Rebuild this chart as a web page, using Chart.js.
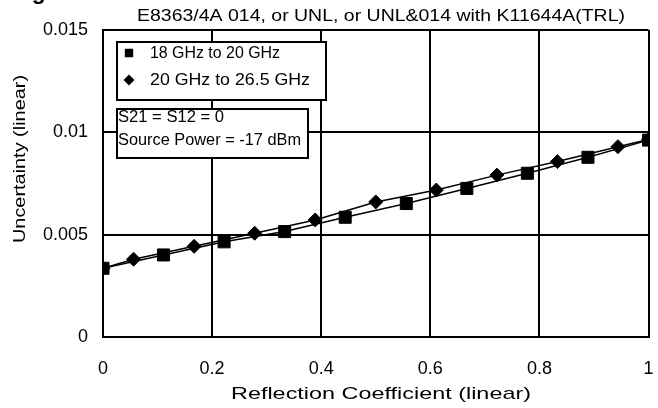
<!DOCTYPE html>
<html>
<head>
<meta charset="utf-8">
<script src="https://cdn.jsdelivr.net/npm/chart.js@4.4.1/dist/chart.umd.min.js"></script>
<style>
  html, body { margin: 0; padding: 0; background: #fff; overflow: hidden; }
  #wrap { width: 658px; height: 408px; position: relative; }
  #chart { display: block; }
</style>
</head>
<body>
<div id="wrap"><canvas id="chart"></canvas></div>
<script>
// ── Data ──────────────────────────────────────────────────────
const chartTitle  = 'E8363/4A 014, or UNL, or UNL&014 with K11644A(TRL)';
const cornerLabel = 'Magnitude';
const xTitle      = 'Reflection Coefficient (linear)';
const yTitle      = 'Uncertainty (linear)';
const noteLines   = ['S21 = S12 = 0', 'Source Power = -17 dBm'];

const seriesNames = ['18 GHz to 20 GHz', '20 GHz to 26.5 GHz'];

// 18 GHz to 20 GHz (squares)
const xLow  = [0, 0.111, 0.222, 0.333, 0.444, 0.556, 0.667, 0.778, 0.889, 1];
const yLow  = [0.00336, 0.00401, 0.00465, 0.00515, 0.00585, 0.00652, 0.00726, 0.00800, 0.00878, 0.00962];
// 20 GHz to 26.5 GHz (diamonds)
const xHigh = [0, 0.056, 0.167, 0.278, 0.389, 0.5, 0.611, 0.722, 0.833, 0.944, 1];
const yHigh = [0.00336, 0.00380, 0.00443, 0.00507, 0.00572, 0.00660, 0.00718, 0.00791, 0.00857, 0.00930, 0.00965];

const xTickLabels = ['0', '0.2', '0.4', '0.6', '0.8', '1'];
const yTickLabels = ['0', '0.005', '0.01', '0.015'];

const FONT = '"Liberation Sans", Arial, sans-serif';
const pts = (xs, ys) => xs.map((x, i) => ({ x, y: ys[i] }));

// draw text squeezed/stretched horizontally to a given width
function fitText(ctx, text, x, y, width, align) {
    const w  = ctx.measureText(text).width;
    const sx = width / w;
    ctx.save();
    ctx.translate(align === 'center' ? x - width / 2 : x, y);
    ctx.scale(sx, 1);
    ctx.textAlign = 'left';
    ctx.fillText(text, 0, 0);
    ctx.restore();
}

// ── Overlay: titles, legend box, note box ─────────────────────
const overlay = {
    id: 'overlay',
    afterDraw(chart) {
        const ctx = chart.ctx;
        ctx.save();
        ctx.fillStyle = '#000';

        // cut-off heading at the very top
        ctx.font = `bold 22px ${FONT}`;
        ctx.textBaseline = 'alphabetic';
        fitText(ctx, cornerLabel, 0, -1, 114, 'left');
        ctx.textBaseline = 'middle';

        // chart title
        ctx.font = `17px ${FONT}`;
        fitText(ctx, chartTitle, 381, 16, 488, 'center');

        // x axis title
        ctx.font = `17px ${FONT}`;
        fitText(ctx, xTitle, 381, 394, 300, 'center');

        // y axis title
        ctx.save();
        ctx.translate(20, 159);
        ctx.rotate(-Math.PI / 2);
        fitText(ctx, yTitle, 0, 0, 168, 'center');
        ctx.restore();

        // legend box (series listed in seriesNames order)
        ctx.lineWidth = 2;
        ctx.strokeStyle = '#000';
        ctx.fillStyle = '#fff';
        ctx.fillRect(117, 42, 209, 58);
        ctx.strokeRect(117, 42, 209, 58);
        ctx.fillStyle = '#000';
        ctx.font = `16px ${FONT}`;
        const legendW = [130, 160];
        seriesNames.forEach((name, i) => {
            const ds = chart.data.datasets.find(d => d.label === name);
            const y = 53 + i * 27;
            Chart.helpers.drawPoint(ctx, {
                pointStyle: ds.pointStyle, radius: ds.pointStyle === 'rect' ? 4.5 : 4,
                borderWidth: 1, rotation: 0
            }, 129, y);
            ctx.fill();
            fitText(ctx, name, 150, y + 1, legendW[i], 'left');
        });

        // note box
        ctx.fillStyle = '#fff';
        ctx.fillRect(117, 109, 191, 49);
        ctx.strokeRect(117, 109, 191, 49);
        ctx.fillStyle = '#000';
        ctx.font = `16px ${FONT}`;
        const noteW = [106, 183];
        noteLines.forEach((t, i) => fitText(ctx, t, 118, 118 + i * 23, noteW[i], 'left'));

        ctx.restore();
    }
};

// ── Chart ─────────────────────────────────────────────────────
new Chart(document.getElementById('chart'), {
    type: 'scatter',
    data: {
        datasets: [
            { label: seriesNames[0], data: pts(xLow, yLow), showLine: true, order: 0,
              borderColor: '#000', borderWidth: 1.5, backgroundColor: '#000',
              pointStyle: 'rect', pointRadius: 8.5, pointBorderWidth: 1 },
            { label: seriesNames[1], data: pts(xHigh, yHigh), showLine: true, order: 1,
              borderColor: '#000', borderWidth: 1.5, backgroundColor: '#000',
              pointStyle: 'rectRot', pointRadius: 7, pointBorderWidth: 1 },
        ],
    },
    options: {
        responsive: true, maintainAspectRatio: false, animation: false,
        layout: { padding: { top: 30, right: 6, left: 0, bottom: 0 } },
        plugins: { legend: { display: false }, tooltip: { enabled: false } },
        scales: {
            x: {
                type: 'linear', min: 0, max: 1,
                afterFit: s => { s.height = 71; s.paddingLeft = 0; s.paddingRight = 0; },
                ticks: { stepSize: 0.2, padding: 21, color: '#000',
                         font: { family: FONT, size: 18 },
                         callback: (v, i) => xTickLabels[i] },
                grid: { color: '#000', lineWidth: 2, drawTicks: false },
                border: { color: '#000', width: 2 },
            },
            y: {
                type: 'linear', min: 0, max: 0.015,
                afterFit: s => { s.width = 103; },
                ticks: { stepSize: 0.005, padding: 15, color: '#000',
                         font: { family: FONT, size: 18 },
                         callback: (v, i) => yTickLabels[i] },
                grid: { color: '#000', lineWidth: 2, drawTicks: false },
                border: { color: '#000', width: 2 },
            },
        },
    },
    plugins: [overlay],
});
</script>
</body>
</html>
